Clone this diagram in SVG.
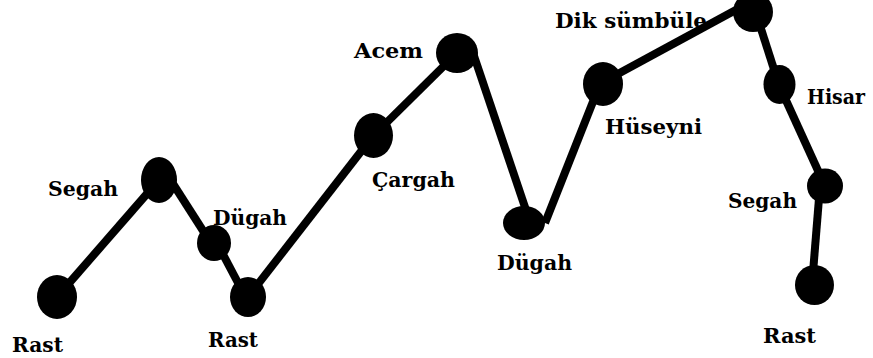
<svg xmlns="http://www.w3.org/2000/svg" width="873" height="358" viewBox="0 0 873 358">
<style>
.bg{fill:#ffffff}
.edge{stroke:#000;stroke-width:8;stroke-linecap:butt;fill:none}
.dot{fill:#000}
.lbl{fill:#000;font-family:'DejaVu Serif',serif;font-weight:bold;font-size:20px}
</style>
<rect class="bg" x="0" y="0" width="873" height="358"/>
<g id="connectors">
<line class="edge" x1="57" y1="297" x2="159" y2="180"/>
<line class="edge" x1="168" y1="176" x2="216" y2="251"/>
<line class="edge" x1="217" y1="243" x2="246" y2="298"/>
<line class="edge" x1="248" y1="297" x2="373" y2="136"/>
<line class="edge" x1="373" y1="136" x2="457" y2="53"/>
<line class="edge" x1="472" y1="50" x2="530" y2="222"/>
<line class="edge" x1="545" y1="223" x2="600" y2="84"/>
<line class="edge" x1="603" y1="82" x2="745" y2="5"/>
<line class="edge" x1="755" y1="10" x2="779" y2="85"/>
<line class="edge" x1="779" y1="85" x2="825" y2="186"/>
<line class="edge" x1="820" y1="186" x2="812" y2="285"/>
</g>
<g id="n1-rast"><ellipse class="dot" cx="57" cy="297" rx="20" ry="22"/><text class="lbl" x="12" y="352" textLength="51" lengthAdjust="spacingAndGlyphs">Rast</text></g>
<g id="n2-segah"><ellipse class="dot" cx="159" cy="180" rx="18" ry="23"/><text class="lbl" x="48" y="196" textLength="70" lengthAdjust="spacingAndGlyphs">Segah</text></g>
<g id="n3-dugah"><ellipse class="dot" cx="214" cy="243" rx="17" ry="18"/><text class="lbl" x="213" y="225" textLength="74" lengthAdjust="spacingAndGlyphs">Dügah</text></g>
<g id="n4-rast"><ellipse class="dot" cx="248" cy="297" rx="18" ry="20"/><text class="lbl" x="208" y="347" textLength="50" lengthAdjust="spacingAndGlyphs">Rast</text></g>
<g id="n5-cargah"><ellipse class="dot" cx="373.5" cy="135.5" rx="19.5" ry="22.5"/><text class="lbl" x="372" y="187" textLength="83" lengthAdjust="spacingAndGlyphs">Çargah</text></g>
<g id="n6-acem"><ellipse class="dot" cx="457" cy="53" rx="21" ry="20"/><text class="lbl" x="354" y="58" textLength="69" lengthAdjust="spacingAndGlyphs">Acem</text></g>
<g id="n7-dugah"><ellipse class="dot" cx="524" cy="223" rx="21" ry="17"/><text class="lbl" x="497" y="270" textLength="75" lengthAdjust="spacingAndGlyphs">Dügah</text></g>
<g id="n8-huseyni"><ellipse class="dot" cx="603" cy="84" rx="20" ry="22"/><text class="lbl" x="605" y="134" textLength="97" lengthAdjust="spacingAndGlyphs">Hüseyni</text></g>
<g id="n9-diksumbule"><ellipse class="dot" cx="753" cy="12" rx="20" ry="20"/><text class="lbl" x="555" y="28" textLength="152" lengthAdjust="spacingAndGlyphs">Dik sümbüle</text></g>
<g id="n10-hisar"><ellipse class="dot" cx="779.5" cy="84.5" rx="16" ry="19.5"/><text class="lbl" x="807" y="104" textLength="58" lengthAdjust="spacingAndGlyphs">Hisar</text></g>
<g id="n11-segah"><ellipse class="dot" cx="825" cy="186" rx="18" ry="17.5"/><text class="lbl" x="728" y="208" textLength="69" lengthAdjust="spacingAndGlyphs">Segah</text></g>
<g id="n12-rast"><ellipse class="dot" cx="814.5" cy="285" rx="19.5" ry="20"/><text class="lbl" x="763" y="343" textLength="53" lengthAdjust="spacingAndGlyphs">Rast</text></g>
</svg>
